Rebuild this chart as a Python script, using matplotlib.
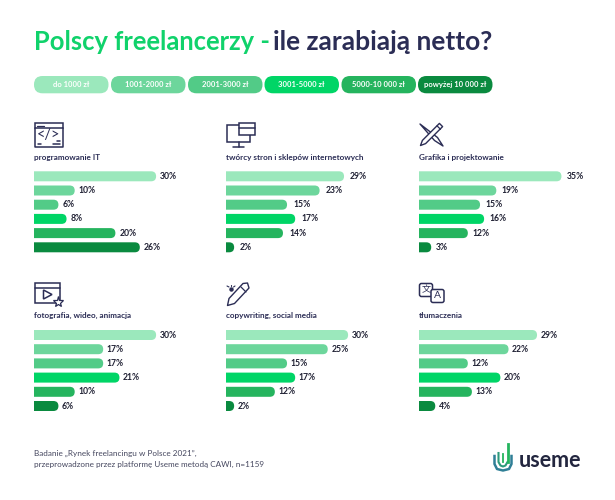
import matplotlib
matplotlib.use('Agg')
import matplotlib.pyplot as plt
from matplotlib.patches import FancyBboxPatch, Rectangle, Polygon

W, H = 615, 500
FONT = 'Lato'
NAVY = '#2b2d55'
GREEN = '#10d26b'

# data
brackets = ['do 1000 zł', '1001-2000 zł', '2001-3000 zł', '3001-5000 zł', '5000-10 000 zł', 'powyżej 10 000 zł']
colors = ['#9be8bc', '#6dd69c', '#52cb87', '#00d566', '#25b45e', '#0a8a3f']

programming = [30, 10, 6, 8, 20, 26]
web = [29, 23, 15, 17, 14, 2]
graphics = [35, 19, 15, 16, 12, 3]
video = [30, 17, 17, 21, 10, 6]
copywriting = [30, 25, 15, 17, 12, 2]
translation = [29, 22, 12, 20, 13, 4]

names = ['programowanie IT', 'twórcy stron i sklepów internetowych', 'Grafika i projektowanie',
         'fotografia, wideo, animacja', 'copywriting, social media', 'tłumaczenia']
series = [programming, web, graphics, video, copywriting, translation]

plt.rcParams['font.family'] = FONT
fig = plt.figure(figsize=(W / 100, H / 100), dpi=100, facecolor='white')

# overlay in pixel coordinates for title, legend pills and icons
bg = fig.add_axes([0, 0, 1, 1])
bg.set_xlim(0, W)
bg.set_ylim(H, 0)
bg.axis('off')


def panel(x0, y_center, values, name, pad):
    # one small chart, x in percent, 4.07 px per percent, rows 14.2 px apart
    px_x, px_y = 4.07, 14.2
    ax = fig.add_axes([x0 / W, 1 - (y_center + 5.5 * px_y) / H, 40 * px_x / W, 6 * px_y / H])
    ax.set_xlim(0, 40)
    ax.set_ylim(5.5, -0.5)
    ax.axis('off')
    rx = 5 / px_x
    ry = 5 / px_y
    for i, v in enumerate(values):
        # left side starts outside the axes so only the right end looks rounded
        bar = FancyBboxPatch((-3, i - ry), v + 3, 2 * ry,
                             boxstyle=f'round,pad=0,rounding_size={rx}',
                             mutation_aspect=ry / rx, fc=colors[i], ec='none')
        ax.add_patch(bar)
        ax.annotate(f'{v}%', (v, i), xytext=(pad, 0), textcoords='offset pixels', va='center',
                    fontsize=6.2, fontweight='bold', color='#1f2033', annotation_clip=False)
    ax.text(0, -1.35, name, fontsize=5.9, fontweight='bold', color=NAVY, va='center', clip_on=False)


xs = [34, 226, 419]
pads = [4, 6, 5, 3.5, 3.7, 3.5]
for k in range(6):
    panel(xs[k % 3], 176.3 if k < 3 else 335, series[k], names[k], pads[k])

# title
bg.text(34, 50, 'Polscy freelancerzy -', fontsize=18.4, fontweight='bold', color=GREEN, va='baseline')
bg.text(273, 50, 'ile zarabiają netto?', fontsize=19, fontweight='bold', color=NAVY, va='baseline')

# legend pills
pill_x = [34, 111, 188, 264.5, 341.5, 418]
for x, label, c in zip(pill_x, brackets, colors):
    bg.add_patch(FancyBboxPatch((x, 76), 74.5, 17.3, boxstyle='round,pad=0,rounding_size=8.5', fc=c, ec='none'))
    bg.text(x + 37.2, 84.8, label, ha='center', va='center', fontsize=5.5, fontweight='bold', color='white')


def line(xx, yy, lw=1.1, c=NAVY):
    bg.plot(xx, yy, color=c, lw=lw, solid_capstyle='round')


def box(x, y, w, h, lw=1.1):
    bg.add_patch(Rectangle((x, y), w, h, fc='white', ec=NAVY, lw=lw))


def shape(points, lw=1.0):
    bg.add_patch(Polygon(points, fc='white', ec=NAVY, lw=lw, joinstyle='round'))


# icon: code window
box(34.5, 123, 28, 5)
line([34.5, 34.5, 62.5, 62.5], [128, 146.5, 146.5, 128])
line([36.5, 43.5], [125.5, 125.5], lw=0.9)
bg.text(48.5, 135.5, '</>', ha='center', va='center', fontsize=10.5, color=NAVY)
line([38, 41], [143.5, 143.5])
line([53, 60], [144, 144])
line([57, 60], [141, 141])

# icon: monitor and page
box(227, 125, 23, 17)
line([238.5, 238.5], [142, 146.5])
line([233, 244], [146.5, 146.5])
box(238.5, 122.5, 16, 12)
line([238.5, 254.5], [128, 128])

# icon: brush under pencil
shape([(420, 124), (437.5, 137.5), (443, 146), (434.5, 140.5)])
shape([(420.5, 145.5), (422.4, 140.4), (439.4, 123.4), (442.6, 126.6), (425.6, 143.6)])
line([437, 440.5], [125.8, 129.3], lw=0.9)

# icon: video window with star
box(34.5, 282.5, 25, 20)
line([34.5, 59.5], [287.5, 287.5])
bg.add_patch(Polygon([(43.5, 290), (43.5, 299), (52, 294.5)], fc='white', ec=NAVY, lw=1.1))
bg.plot([58], [302], marker='*', ms=8, mfc='white', mec=NAVY, mew=0.9)

# icon: pen with sparkle
shape([(227.5, 305.5), (229, 298.5), (243, 283.5), (247.5, 283), (249, 288), (234.5, 303.5)])
line([241, 246], [287, 292], lw=0.9)
bg.plot([231], [288.5], marker='o', ms=2.2, color=NAVY)
line([227, 229], [286, 287], lw=0.8)
line([231, 231], [284.5, 286], lw=0.8)
line([235, 233.5], [286, 287], lw=0.8)

# icon: translation bubbles
bg.add_patch(FancyBboxPatch((419.5, 283.5), 13, 13, boxstyle='round,pad=0,rounding_size=2', fc='white', ec=NAVY, lw=1.1))
bg.add_patch(FancyBboxPatch((431, 289.5), 13, 13, boxstyle='round,pad=0,rounding_size=2', fc='white', ec=NAVY, lw=1.1))
bg.text(426, 290, '文', ha='center', va='center', fontsize=6.5, color=NAVY, family=['Noto Sans CJK SC', 'DejaVu Sans'])
bg.text(437.5, 296, 'A', ha='center', va='center', fontsize=7.5, color=NAVY)

# footer
bg.text(34, 453, 'Badanie „Rynek freelancingu w Polsce 2021”,', fontsize=5.85, color='#45475f', va='center')
bg.text(34, 464, 'przeprowadzone przez platformę Useme metodą CAWI, n=1159', fontsize=5.85, color='#45475f', va='center')

# logo
bg.plot([494.5, 494.5, 497, 503, 509, 511.5, 511.5], [456, 464, 469, 470.5, 469, 464, 456], color='#2f7f96', lw=1.8)
bg.plot([498.5, 498.5, 500.5, 503, 505.5, 507.5], [453, 462, 465.5, 466.5, 465.5, 462], color='#2d9a7c', lw=1.5)
bg.plot([507.5, 507.5], [444, 462], color='#25b45e', lw=2)
bg.plot([503, 503], [454, 462], color='#25b45e', lw=1.3)
bg.text(519, 460.5, 'useme', fontsize=15.5, fontweight='bold', color='#23263f', va='center')

fig.savefig('out.png', dpi=100)
